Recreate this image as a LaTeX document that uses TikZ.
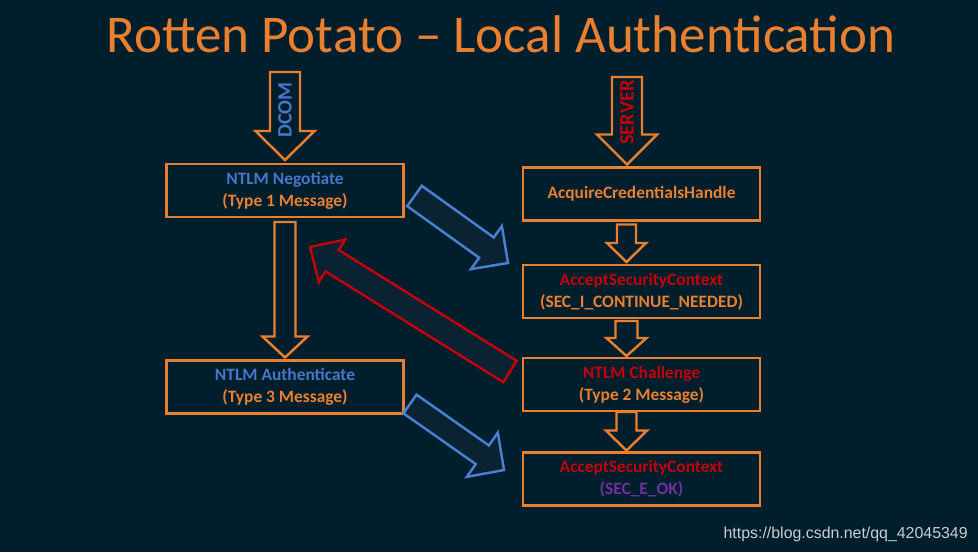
\documentclass[tikz,border=0pt]{standalone}
\usepackage{fontspec}
\setmainfont{Carlito}
\newfontfamily\urlfont{Liberation Sans}
\usetikzlibrary{
    calc,
    positioning
}
\definecolor{bgnavy}{RGB}{1,30,45}
\definecolor{arrfill}{RGB}{10,35,50}
\definecolor{potorange}{RGB}{232,128,48}
\definecolor{msgblue}{RGB}{70,118,200}
\definecolor{arrblue}{RGB}{74,128,212}
\definecolor{ctxred}{RGB}{196,0,8}
\definecolor{okpurple}{RGB}{112,48,160}
\definecolor{urlgray}{RGB}{200,205,208}
\newcommand{\px}{0.02cm}
% block arrow: [style]{tail}{tip}{half shaft}{half head}{head length}, sizes in px
\newcommand{\blockarrow}[6][]{%
    \coordinate (bhd) at ($(#3)!{#6*\px}!(#2)$);
    \draw[#1] ($(#2)!{#4*\px}!90:(#3)$) -- ($(bhd)!{#4*\px}!-90:(#2)$)
        -- ($(bhd)!{#5*\px}!-90:(#2)$) -- (#3)
        -- ($(bhd)!{#5*\px}!90:(#2)$) -- ($(bhd)!{#4*\px}!90:(#2)$)
        -- ($(#2)!{#4*\px}!-90:(#3)$) -- cycle;
}
\tikzset{
    every picture/.style = {
        x = 0.02cm,
        y = -0.02cm
    },
    msgbox/.style = {
        draw = potorange,
        line width = 1.4pt,
        minimum width = 4.74cm,
        minimum height = 1.06cm,
        inner sep = 1pt,
        outer sep = 0pt,
        align = center,
        text = potorange,
        font = \bfseries\fontsize{9.9}{12.5}\selectfont
    },
    orangearrow/.style = {
        draw = potorange,
        line width = 1.4pt,
        line join = miter,
        fill = bgnavy
    },
    bluearrow/.style = {
        draw = arrblue,
        line width = 1.4pt,
        line join = miter,
        fill = arrfill
    },
    redarrow/.style = {
        draw = ctxred,
        line width = 1.4pt,
        line join = miter,
        fill = arrfill
    },
    sidelabel/.style = {
        rotate = 90,
        inner sep = 0pt,
        font = \bfseries\fontsize{11.7}{13}\selectfont
    }
}

\begin{document}
\begin{tikzpicture}
    \fill[bgnavy] (0, 0) rectangle (978, 552);

    \node[anchor = base, text = potorange, font = \fontsize{30.2}{32}\selectfont] (title) at (501, 52)
        {Rotten Potato -- Local Authentication};

    % client side
    \node[msgbox] (neg) at (285, 190.5)
        {\textcolor{msgblue}{NTLM Negotiate}\\(Type 1 Message)};
    \node[msgbox] (auth) at (285, 387)
        {\textcolor{msgblue}{NTLM Authenticate}\\(Type 3 Message)};

    % server side
    \node[msgbox] (acq) at (641.5, 194) {AcquireCredentialsHandle};
    \node[msgbox] (acc1) at (641.5, 291.5)
        {\textcolor{ctxred}{AcceptSecurityContext}\\(SEC\_I\_CONTINUE\_NEEDED)};
    \node[msgbox] (chal) at (641.5, 384.5)
        {\textcolor{ctxred}{NTLM Challenge}\\(Type 2 Message)};
    \node[msgbox] (acc2) at (641.5, 479)
        {\textcolor{ctxred}{AcceptSecurityContext}\\\textcolor{okpurple}{(SEC\_E\_OK)}};

    % arrow ends
    \coordinate (dcomtail) at (285, 72);
    \coordinate (negin) at ($(neg.north) + (0, -4)$);
    \coordinate (negout) at ($(neg.south) + (0, 5)$);
    \coordinate (authin) at ($(auth.north) + (0, -3)$);
    \coordinate (servtail) at (627, 77);
    \coordinate (acqin) at ($(acq.north) + (-14.5, -3)$);
    \coordinate (acqout) at ($(acq.south) + (-15, 4)$);
    \coordinate (acc1in) at ($(acc1.north) + (-15, -3)$);
    \coordinate (acc1out) at ($(acc1.south) + (-15, 3)$);
    \coordinate (chalin) at ($(chal.north) + (-15, -2)$);
    \coordinate (chalout) at ($(chal.south) + (-15, 1)$);
    \coordinate (acc2in) at ($(acc2.north) + (-15, -2)$);
    \coordinate (typeoneout) at (414.5, 196);
    \coordinate (typeonein) at (508, 263);
    \coordinate (typetwoout) at (510, 371.5);
    \coordinate (typetwoin) at (310, 247);
    \coordinate (typethreeout) at (410, 404);
    \coordinate (typethreein) at (504, 470);

    % block arrows
    \blockarrow[orangearrow]{dcomtail}{negin}{15}{29.5}{29}
    \blockarrow[orangearrow]{servtail}{acqin}{15}{30}{30}
    \blockarrow[orangearrow]{negout}{authin}{10.5}{22.5}{21}
    \blockarrow[orangearrow]{acqout}{acc1in}{9.5}{19.5}{19}
    \blockarrow[orangearrow]{acc1out}{chalin}{11}{20}{18}
    \blockarrow[orangearrow]{chalout}{acc2in}{10}{20.5}{20}
    \blockarrow[bluearrow]{typeoneout}{typeonein}{12.5}{26.5}{26.5}
    \blockarrow[redarrow]{typetwoout}{typetwoin}{12.6}{25}{26}
    \blockarrow[bluearrow]{typethreeout}{typethreein}{11.4}{27}{26.5}

    \node[sidelabel, text = msgblue] (dcom) at (285, 110) {DCOM};
    \node[sidelabel, text = ctxred] (server) at (627, 112.5) {SERVER};

    \node[anchor = base east, inner sep = 0pt, text = urlgray, font = \urlfont\fontsize{9.05}{11}\selectfont] (url)
        at (968, 538) {https://blog.csdn.net/qq\_42045349};
\end{tikzpicture}
\end{document}
